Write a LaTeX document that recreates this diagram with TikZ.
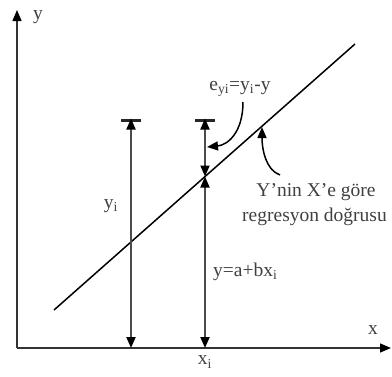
\documentclass[tikz,border=0pt]{standalone}
\usepackage{fontspec}
\setmainfont{Liberation Serif}
\usetikzlibrary{arrows.meta}
\begin{document}
\begin{tikzpicture}[x=1pt,y=-1pt,
  tip/.style={-{Triangle[length=11pt,width=9pt,color=black]}},
  dtip/.style={{Triangle[length=11pt,width=9pt,color=black]}-{Triangle[length=11pt,width=9pt,color=black]}},
  lbl/.style={font=\fontsize{19.5}{23}\selectfont, text=black!75, inner sep=0pt},
  vline/.style={line width=2pt, draw=black!70},
  bar/.style={line width=3pt, draw=black!85},
  axis/.style={line width=1.4pt, draw=black!80}]
\useasboundingbox (0,0) rectangle (392,376);
% coordinates
\coordinate (O) at (17,348);
\coordinate (Ytop) at (17,10);
\coordinate (Xend) at (391,348);
\coordinate (L1) at (54,310);
\coordinate (L2) at (355,44);
\coordinate (A) at (131,348);
\coordinate (Atop) at (131,120);
\coordinate (Abl) at (121,120);
\coordinate (Abr) at (141,120);
\coordinate (B) at (205,348);
\coordinate (Btop) at (205,120);
\coordinate (Bbl) at (195,120);
\coordinate (Bbr) at (215,120);
\coordinate (Bmid) at (205,176.5);
\coordinate (Ebeg) at (243,102);
\coordinate (Eend) at (207,147);
\coordinate (Rbeg) at (280,175);
\coordinate (Rend) at (262,127);
% axes
\draw[axis,tip] (O) -- (Ytop);
\draw[axis,tip] (O) -- (Xend);
% regression line
\draw[line width=1.5pt] (L1) -- (L2);
% left vertical
\draw[bar] (Abl) -- (Abr);
\draw[vline,dtip] (A) -- ([yshift=1.5pt]Atop);
% right vertical
\draw[bar] (Bbl) -- (Bbr);
\draw[vline,dtip] (Bmid) -- ([yshift=1.5pt]Btop);
\draw[vline,dtip] (B) -- (Bmid);
% curved arrows
\draw[line width=1.5pt,tip] (Ebeg) .. controls (243,132) and (228,145) .. (Eend);
\draw[line width=1.5pt,tip] (Rbeg) .. controls (266,170) and (262,150) .. (Rend);
% labels
\node[lbl] (ylab) at (38,17) {y};
\node[lbl] (xlab) at (373,330) {x};
\node[lbl] (xi) at (205,362) {x\textsubscript{i}};
\node[lbl] (yi) at (111,206) {y\textsubscript{i}};
\node[lbl,anchor=west] (fit) at (213,272) {y=a+bx\textsubscript{i}};
\node[lbl] (err) at (240,89) {e\textsubscript{yi}=y\textsubscript{i}-y};
\node[lbl] (reg1) at (316,192) {Y’nin X’e göre};
\node[lbl,anchor=west] (reg2) at (242,217) {regresyon doğrusu};
\end{tikzpicture}
\end{document}
